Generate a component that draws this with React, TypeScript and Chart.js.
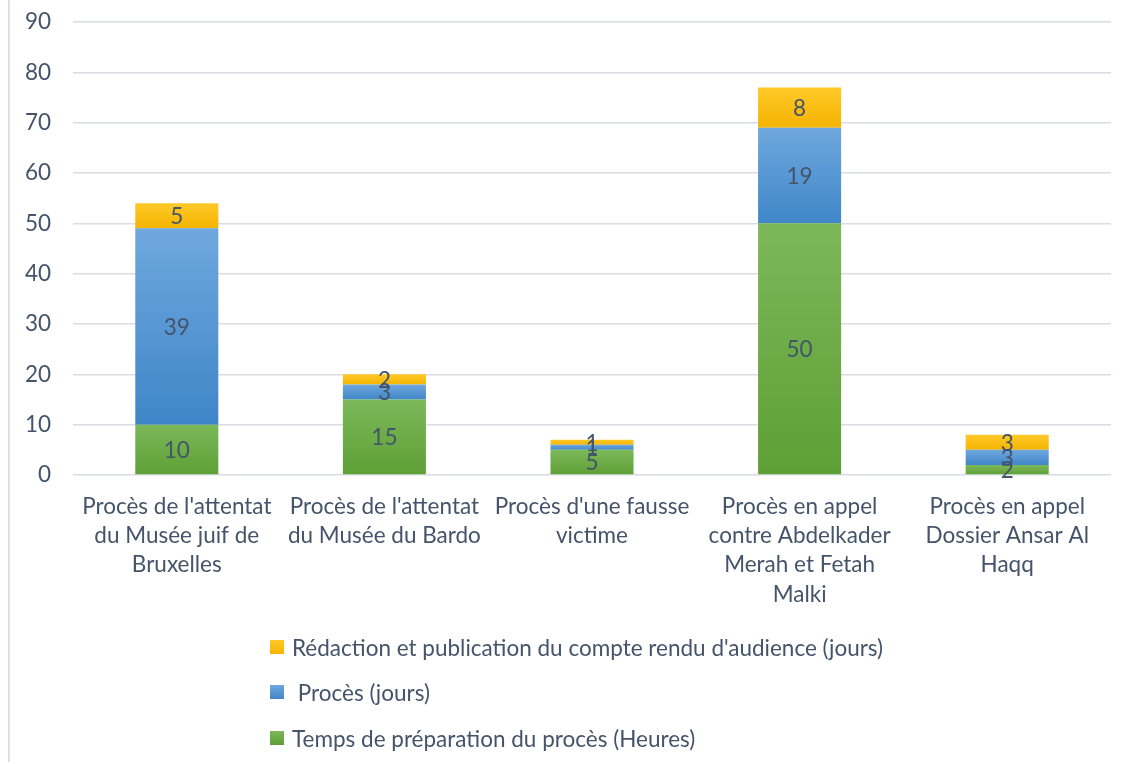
import React, { useEffect, useRef } from "react";
import { Chart, registerables } from "chart.js";

Chart.register(...registerables);

const categories: string[][] = [
  ["Procès de l'attentat", "du Musée juif de", "Bruxelles"],
  ["Procès de l'attentat", "du Musée du Bardo"],
  ["Procès d'une fausse", "victime"],
  ["Procès en appel", "contre Abdelkader", "Merah et Fetah", "Malki"],
  ["Procès en appel", "Dossier Ansar Al", "Haqq"],
];
const preparation = [10, 15, 5, 50, 2];
const proces = [39, 3, 1, 19, 3];
const redaction = [5, 2, 1, 8, 3];
const seriesNames = [
  "Temps de préparation du procès (Heures)",
  " Procès (jours)",
  "Rédaction et publication du compte rendu d'audience (jours)",
];
const yTicks = [0, 10, 20, 30, 40, 50, 60, 70, 80, 90];

const TEXT = "#44546A";
const FONT = "Lato, 'Open Sans', sans-serif";
const FS = 22.5;
const gradStops: [string, string, string][] = [
  ["#7cb85a", "#5e9f35", "#70ad47"],
  ["#6fa8de", "#3f86c8", "#5b9bd5"],
  ["#ffc929", "#f4b400", "#ffc000"],
];

const labelPlugin = {
  id: "segLabels",
  afterDatasetsDraw(chart: any) {
    const ctx = chart.ctx;
    ctx.save();
    ctx.fillStyle = TEXT;
    ctx.font = `${FS}px ${FONT}`;
    ctx.textAlign = "center";
    ctx.textBaseline = "middle";
    chart.data.datasets.forEach((ds: any, di: number) => {
      const meta = chart.getDatasetMeta(di);
      meta.data.forEach((el: any, i: number) => {
        const v = ds.data[i];
        ctx.fillText(String(v), el.x, (el.y + el.base) / 2 + 1);
      });
    });
    ctx.restore();
  },
};

export default function App() {
  const ref = useRef<HTMLCanvasElement>(null);
  useEffect(() => {
    const all = [preparation, proces, redaction];
    const makeBg = (di: number) => (c: any) => {
      const chart = c.chart;
      const ys = chart.scales && chart.scales.y;
      if (!ys || c.type !== "data") return gradStops[di][2];
      let start = 0;
      for (let k = 0; k < di; k++) start += all[k][c.dataIndex];
      const end = start + all[di][c.dataIndex];
      const y0 = ys.getPixelForValue(end);
      const y1 = ys.getPixelForValue(start);
      if (!isFinite(y0) || !isFinite(y1) || y0 === y1) return gradStops[di][2];
      const g = chart.ctx.createLinearGradient(0, y0, 0, y1);
      g.addColorStop(0, gradStops[di][0]);
      g.addColorStop(1, gradStops[di][1]);
      return g;
    };
    const chart = new Chart(ref.current!, {
      type: "bar",
      data: {
        labels: categories,
        datasets: [preparation, proces, redaction].map((d, i) => ({
          label: seriesNames[i],
          data: d,
          backgroundColor: makeBg(i),
          borderWidth: 0,
          categoryPercentage: 1,
          barPercentage: 0.4,
        })),
      },
      options: {
        animation: false,
        responsive: false,
        maintainAspectRatio: false,
        layout: { padding: { left: 8, right: 14, top: 22, bottom: 0 } },
        plugins: { legend: { display: false }, tooltip: { enabled: false } },
        scales: {
          x: {
            stacked: true,
            grid: { display: false, drawTicks: false },
            border: { display: false },
            ticks: {
              color: TEXT,
              font: { family: FONT, size: FS, lineHeight: 1.3 },
              padding: 17,
              maxRotation: 0,
              autoSkip: false,
            },
            afterFit: (s: any) => {
              s.height = 289;
              s.paddingTop = 0;
              s.paddingBottom = 0;
            },
          },
          y: {
            stacked: true,
            min: 0,
            max: 90,
            afterBuildTicks: (s: any) => {
              s.ticks = yTicks.map((v) => ({ value: v }));
            },
            grid: { color: "#d9dde3", lineWidth: 1.5, drawTicks: false },
            border: { display: false },
            ticks: {
              color: TEXT,
              font: { family: FONT, size: FS },
              padding: 22,
            },
            afterFit: (s: any) => {
              s.width = 65;
              s.paddingTop = 0;
              s.paddingBottom = 0;
            },
          },
        },
      },
      plugins: [labelPlugin],
    });
    return () => chart.destroy();
  }, []);

  const legendItems = [
    { text: seriesNames[2], color: gradStops[2], top: 634 },
    { text: seriesNames[1], color: gradStops[1], top: 679 },
    { text: seriesNames[0], color: gradStops[0], top: 725 },
  ];

  return (
    <div style={{ position: "fixed", left: 0, top: 0, width: 1125, height: 764, background: "#fff", overflow: "hidden" }}>
      <div style={{ position: "absolute", left: 8, top: 0, width: 2, height: 762, background: "#dde1e6" }} />
      <canvas ref={ref} width={1125} height={764} style={{ position: "absolute", left: 0, top: 0 }} />
      {legendItems.map((it, i) => (
        <div
          key={i}
          style={{
            position: "absolute",
            left: 270,
            top: it.top,
            height: 26,
            display: "flex",
            alignItems: "center",
            fontFamily: FONT,
            fontSize: FS,
            color: TEXT,
            whiteSpace: "pre",
          }}
        >
          <span
            style={{
              display: "inline-block",
              width: 14,
              height: 14,
              marginRight: 8,
              background: `linear-gradient(${it.color[0]}, ${it.color[1]})`,
            }}
          />
          <span>{it.text}</span>
        </div>
      ))}
    </div>
  );
}
